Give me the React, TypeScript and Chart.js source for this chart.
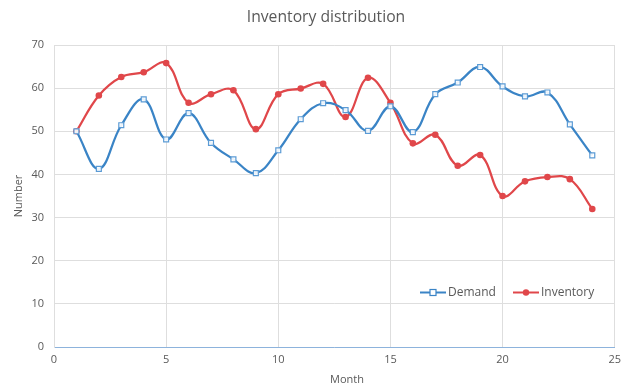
import React, { useEffect, useRef } from "react";
import { Chart, registerables } from "chart.js";

Chart.register(...registerables);

const months = [1, 2, 3, 4, 5, 6, 7, 8, 9, 10, 11, 12, 13, 14, 15, 16, 17, 18, 19, 20, 21, 22, 23, 24];
const demand = [50, 41.3, 51.4, 57.4, 48.1, 54.2, 47.3, 43.5, 40.3, 45.6, 52.8, 56.5, 54.9, 50.1, 55.8, 49.8, 58.6, 61.3, 64.9, 60.4, 58.1, 59, 51.6, 44.4];
const inventory = [50, 58.3, 62.6, 63.7, 65.8, 56.6, 58.6, 59.5, 50.5, 58.6, 59.9, 61, 53.3, 62.4, 56.6, 47.2, 49.2, 42, 44.5, 35, 38.4, 39.4, 38.9, 32];
const seriesNames = ["Demand", "Inventory"];
const chartTitle = "Inventory distribution";
const xTitle = "Month";
const yTitle = "Number";

const BLUE = "#3a84c6";
const RED = "#e0474a";
const TEXT = "#595959";
const GRID = "#dedede";
const FONT = "'Open Sans', 'Liberation Sans', sans-serif";

// Titles and the in-plot legend are painted after the chart itself.
const decorations = {
  id: "decorations",
  afterDraw(chart: Chart) {
    const { ctx, chartArea } = chart;
    ctx.save();
    ctx.fillStyle = TEXT;
    ctx.textBaseline = "middle";

    ctx.font = `15.7px ${FONT}`;
    ctx.textAlign = "center";
    ctx.fillText(chartTitle, 326, 18);

    ctx.font = `11px ${FONT}`;
    ctx.fillText(xTitle, 347, 380);

    ctx.save();
    ctx.translate(19, (chartArea.top + chartArea.bottom) / 2);
    ctx.rotate(-Math.PI / 2);
    ctx.fillText(yTitle, 0, 0);
    ctx.restore();

    // legend
    const ly = 292.5;
    const entries = [
      { name: seriesNames[0], color: BLUE, x: 420, square: true },
      { name: seriesNames[1], color: RED, x: 513, square: false },
    ];
    ctx.font = `12px ${FONT}`;
    ctx.textAlign = "left";
    for (const e of entries) {
      ctx.strokeStyle = e.color;
      ctx.lineWidth = 2;
      ctx.beginPath();
      ctx.moveTo(e.x, ly);
      ctx.lineTo(e.x + 26, ly);
      ctx.stroke();
      const cx = e.x + 13;
      if (e.square) {
        ctx.fillStyle = "#ffffff";
        ctx.lineWidth = 1.2;
        ctx.fillRect(cx - 3, ly - 3, 6, 6);
        ctx.strokeRect(cx - 3, ly - 3, 6, 6);
      } else {
        ctx.fillStyle = e.color;
        ctx.beginPath();
        ctx.arc(cx, ly, 3.2, 0, Math.PI * 2);
        ctx.fill();
      }
      ctx.fillStyle = TEXT;
      ctx.fillText(e.name, e.x + 28, ly + 0.5);
    }
    ctx.restore();
  },
};

export default function App() {
  const canvasRef = useRef<HTMLCanvasElement | null>(null);

  useEffect(() => {
    const canvas = canvasRef.current;
    if (!canvas) return;
    const chart = new Chart(canvas, {
      type: "line",
      data: {
        datasets: [
          {
            label: seriesNames[0],
            data: months.map((m, i) => ({ x: m, y: demand[i] })),
            borderColor: BLUE,
            backgroundColor: "rgba(255,255,255,0.9)",
            borderWidth: 2.25,
            tension: 0.4,
            pointStyle: "rect",
            pointRadius: 3.5,
            pointBorderWidth: 1.2,
            pointBorderColor: "#5b9bd5",
          },
          {
            label: seriesNames[1],
            data: months.map((m, i) => ({ x: m, y: inventory[i] })),
            borderColor: RED,
            backgroundColor: RED,
            borderWidth: 2.25,
            tension: 0.4,
            pointStyle: "circle",
            pointRadius: 3.3,
            pointBorderWidth: 0,
          },
        ],
      },
      options: {
        animation: false,
        responsive: false,
        layout: { padding: { top: 45, left: 0, right: 7, bottom: 0 } },
        plugins: {
          legend: { display: false },
          title: { display: false },
          tooltip: { enabled: false },
        },
        scales: {
          x: {
            type: "linear",
            min: 0,
            max: 25,
            ticks: { stepSize: 5, color: TEXT, font: { family: FONT, size: 11 }, padding: 6, maxRotation: 0 },
            grid: { color: GRID, lineWidth: 1, drawTicks: false },
            border: { color: "#8db3dc", width: 1 },
            afterFit: (s: any) => {
              s.height = 40;
            },
          },
          y: {
            min: 0,
            max: 70,
            ticks: { stepSize: 10, color: TEXT, font: { family: FONT, size: 11 }, padding: 10 },
            grid: { color: GRID, lineWidth: 1, drawTicks: false },
            border: { color: GRID, width: 1 },
            afterFit: (s: any) => {
              s.width = 54;
            },
          },
        },
      },
      plugins: [decorations],
    });
    return () => chart.destroy();
  }, []);

  return (
    <div style={{ position: "fixed", left: 0, top: 0, width: 627, height: 387, background: "#ffffff" }}>
      <canvas ref={canvasRef} width={627} height={387} />
    </div>
  );
}
